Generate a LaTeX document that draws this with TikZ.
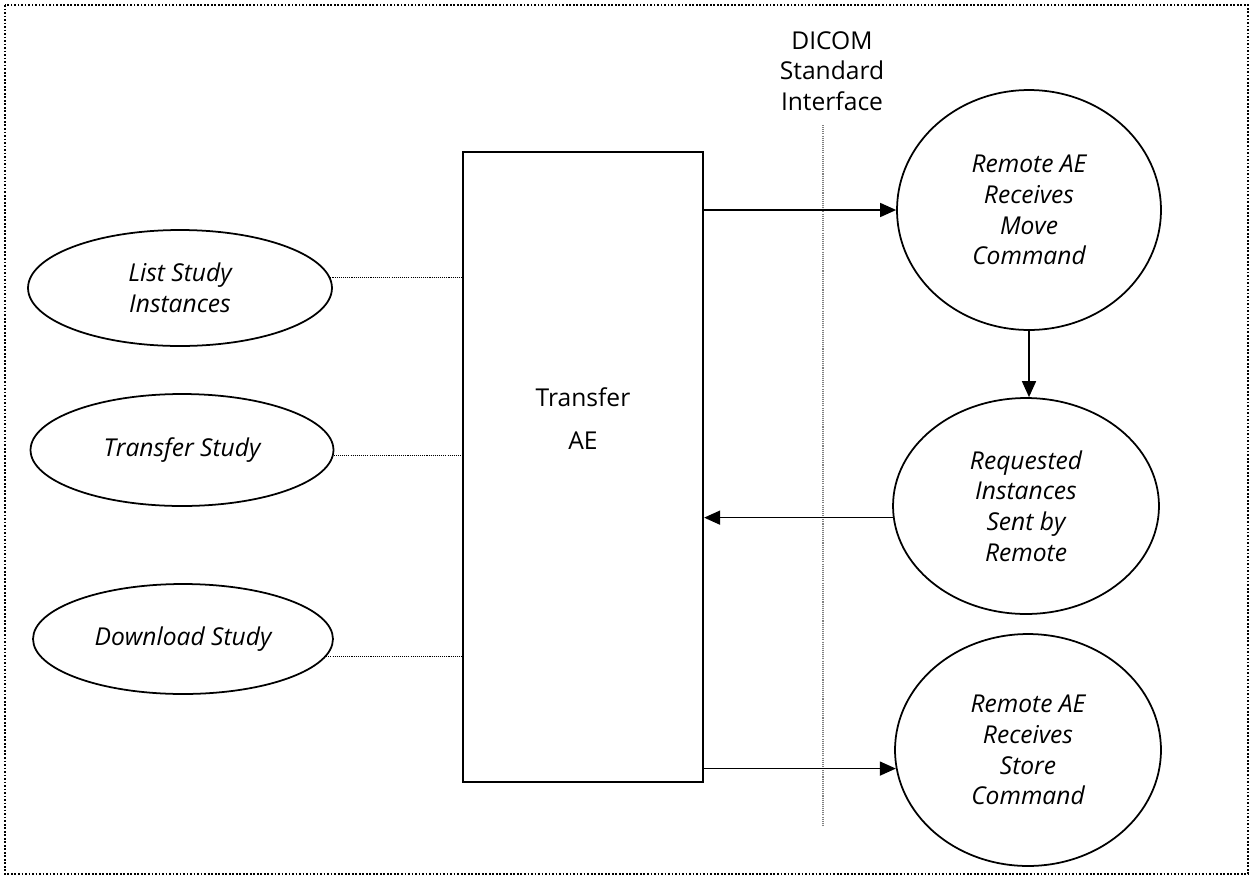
\documentclass[tikz,border=0pt]{standalone}
\usepackage{fontspec}
\setmainfont{Open Sans}
\usetikzlibrary{shapes.geometric,arrows.meta}

\begin{document}
\begin{tikzpicture}[x=0.02cm,y=-0.02cm,
		txt/.style={align=center,font=\fontsize{14}{17.5}\selectfont},
		usecase/.style={txt,ellipse,draw,line width=1pt,inner sep=0pt,font=\fontsize{14}{17.5}\selectfont\itshape},
		flow/.style={-{Triangle[length=0.32cm,width=0.28cm]},line width=0.9pt},
		link/.style={dash pattern=on 0.6pt off 0.6pt,line width=0.8pt}]
		\useasboundingbox (0,0) rectangle (1254,876);
		\draw[dash pattern=on 1pt off 1pt,line width=1.1pt] (5,5) rectangle (1248,874);
		
		\node[draw,line width=1.3pt,minimum width=4.8cm,minimum height=12.6cm] (ae) at (583,467) {};
		\node[txt] (aelbl) at (583,419) {Transfer\\[7pt]AE};
		
		\node[usecase,minimum width=6.08cm,minimum height=2.32cm] (list) at (180,288) {List Study\\Instances};
		\node[usecase,minimum width=6.06cm,minimum height=2.24cm] (transfer) at (182,450) {Transfer Study};
		\node[usecase,minimum width=6cm,minimum height=2.2cm] (download) at (183,639) {Download Study};
		
		\node[usecase,minimum width=5.28cm,minimum height=4.8cm] (move) at (1029,210) {Remote AE\\Receives\\Move\\Command};
		\node[usecase,minimum width=5.32cm,minimum height=4.32cm] (sent) at (1026,506) {Requested\\Instances\\Sent by\\Remote};
		\node[usecase,minimum width=5.32cm,minimum height=4.64cm] (store) at (1028,750) {Remote AE\\Receives\\Store\\Command};
		
		\node[txt] (dicom) at (832,71) {DICOM\\Standard\\Interface};
		\draw[dash pattern=on 0.6pt off 0.6pt,gray,line width=0.6pt] (823,125) -- (823,825);
		
		\draw[link] (list.4) -- (list.4 -| ae.west);
		\draw[link] (transfer.-2) -- (transfer.-2 -| ae.west);
		\draw[link] (download.-7) -- (download.-7 -| ae.west);
		
		\draw[flow] (move.west -| ae.east) -- (move.west);
		\draw[flow] (move.south) -- (move.south |- sent.north);
		\draw[flow] (sent.185) -- (sent.185 -| ae.east);
		\draw[flow] (store.188 -| ae.east) -- (store.188);
		\end{tikzpicture}
\end{document}
